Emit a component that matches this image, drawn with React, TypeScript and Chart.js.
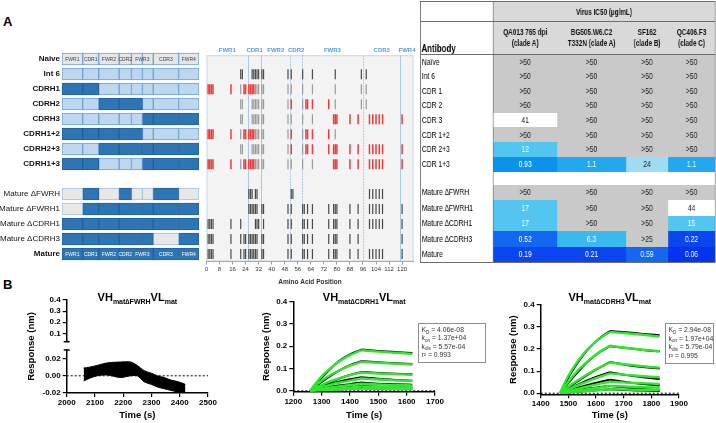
import React, { useEffect, useRef } from 'react';
import { Chart, registerables } from 'chart.js';

Chart.register(...registerables);

const FONT = '"Liberation Sans", Arial, Helvetica, sans-serif';

/* ================= Panel A : schematic ================= */
const rowLabels = ['Naive', 'Int 6', 'CDRH1', 'CDRH2', 'CDRH3', 'CDRH1+2', 'CDRH2+3', 'CDRH1+3', '',
  'Mature ΔFWRH', 'Mature ΔFWRH1', 'Mature ΔCDRH1', 'Mature ΔCDRH3', 'Mature'];
// segments: FWR1, CDR1, FWR2, CDR2, FWR3a, FWR3b, CDR3, FWR4 (schematic units 0-100)
const segmentBounds = [0, 15.1, 26.8, 41.7, 50.7, 58.7, 66.6, 85.1, 100];
// N = naive grey, L = intermediate (light), D = mature (dark), G = deleted (grey)
const rowPatterns = ['NNNNNNNN', 'LLLLLLLL', 'DDLLLLLL', 'LLDDDLLL', 'LLLLLDDD', 'DDDDDLLL', 'LLDDDDDD', 'DDLLLDDD', '',
  'GDGDGGDG', 'GDDDDDDD', 'DDDDDDDD', 'DDDDDDGD', 'DDDDDDDD'];
const deletionRow = 11;
const deletionSpan = [11.7, 18.5];
const segLabelNames = ['FWR1', 'CDR1', 'FWR2', 'CDR2', 'FWR3', 'CDR3', 'FWR4'];
const segLabelBounds = [0, 15.1, 26.8, 41.7, 50.7, 66.6, 85.1, 100];

/* ================= Panel A : mutation map ================= */
const regionNames = ['FWR1', 'CDR1', 'FWR2', 'CDR2', 'FWR3', 'CDR3', 'FWR4'];
const regionBounds = [0, 25.5, 33.5, 51.5, 58.5, 96, 119, 127];
const int6Marks = [21, 22, 28, 29, 30, 31, 32, 34, 35, 50, 52, 59, 65, 79, 95, 98];
const grayMarks = [
  [], [],
  [21, 30, 31, 32, 34, 35, 50, 52, 59, 65, 79, 95, 98],
  [21, 22, 28, 29, 30, 31, 32, 34, 35, 50, 59, 79, 95, 98],
  [21, 22, 28, 29, 30, 31, 32, 34, 35, 50, 52, 59, 65],
  [21, 30, 31, 32, 34, 35, 50, 59, 79],
  [21, 22, 28, 29, 30, 31, 32, 34, 35, 50, 59],
  [21, 30, 31, 32, 34, 35, 50, 52, 59, 65],
];
const redMarks = [
  [], [],
  [1, 2, 3, 4, 15, 23, 24, 26, 27, 28, 29],
  [52, 61, 62, 65, 75],
  [78, 79, 80, 88, 93, 100, 102, 104, 106, 108, 120],
  [1, 2, 3, 4, 15, 23, 24, 26, 27, 28, 29, 52, 61, 62, 65, 75],
  [52, 61, 62, 65, 75, 78, 79, 80, 88, 93, 100, 102, 104, 106, 108, 120],
  [1, 2, 3, 4, 15, 23, 24, 26, 27, 28, 29, 78, 79, 80, 88, 93, 100, 102, 104, 106, 108, 120],
];
const dFWRHMarks = [26, 27, 28, 30, 31, 52, 53, 100, 102, 104, 106, 108];
const dFWRH1Marks = [26, 27, 28, 29, 30, 31, 34, 35, 50, 52, 59, 60, 62, 65, 75, 78, 79, 80, 88, 93, 100, 102, 104, 106, 108, 120];
const dCDRH1Marks = [1, 2, 3, 4, 15, 21, 30, 31, 32, 35, 50, 52, 59, 60, 62, 65, 75, 78, 79, 80, 88, 93, 100, 102, 104, 106, 108, 120];
const dCDRH3Marks = [1, 2, 3, 4, 15, 21, 23, 24, 26, 27, 28, 29, 30, 31, 34, 35, 50, 52, 59, 60, 62, 65, 75, 78, 79, 80, 88, 93, 120];
const matureMarks = [1, 2, 3, 4, 15, 21, 23, 24, 26, 27, 28, 29, 30, 31, 34, 35, 50, 52, 59, 60, 62, 65, 75, 78, 79, 80, 88, 93, 100, 102, 104, 106, 108, 120];

/* ================= Panel A : IC50 table ================= */
const tableRowNames = ['Naïve', 'Int 6', 'CDR 1', 'CDR 2', 'CDR 3', 'CDR 1+2', 'CDR 2+3', 'CDR 1+3', '',
  'Mature ∆FWRH', 'Mature ∆FWRH1', 'Mature ∆CDRH1', 'Mature ∆CDRH3', 'Mature'];
const virusNames = ['QA013 765 dpi\n(clade A)', 'BG505.W6.C2\nT332N (clade A)', 'SF162\n(clade B)', 'QC406.F3\n(clade C)'];
const ic50QA013 = ['>50', '>50', '>50', '>50', '41', '>50', '12', '0.93', '', '>50', '17', '17', '0.52', '0.19'];
const ic50BG505 = ['>50', '>50', '>50', '>50', '>50', '>50', '>50', '1.1', '', '>50', '>50', '>50', '6.3', '0.21'];
const ic50SF162 = ['>50', '>50', '>50', '>50', '>50', '>50', '>50', '24', '', '>50', '>50', '>50', '>25', '0.59'];
const ic50QC406 = ['>50', '>50', '>50', '>50', '>50', '>50', '>50', '1.1', '', '>50', '44', '15', '0.22', '0.06'];

/* ================= Panel B : binding curves ================= */
const p1Times = [2060, 2080, 2107, 2143, 2190, 2226, 2250, 2274, 2300, 2321, 2345, 2369, 2395, 2420];
const p1Upper = [0.009, 0.010, 0.012, 0.015, 0.016, 0.016, 0.012, 0.006, 0.003, 0.000, -0.002, -0.005, -0.007, -0.010];
const p1Lower = [-0.006, -0.003, 0.000, 0.001, -0.002, 0.000, 0.000, -0.007, -0.010, -0.013, -0.015, -0.017, -0.019, -0.021];

const p2Times = [1260, 1280, 1300, 1330, 1360, 1400, 1440, 1500, 1560, 1620];
const p2Fits = [
  [0, 0.035, 0.065, 0.100, 0.130, 0.160, 0.182, 0.176, 0.171, 0.166],
  [0, 0.025, 0.045, 0.070, 0.090, 0.113, 0.130, 0.126, 0.122, 0.118],
  [0, 0.014, 0.026, 0.042, 0.055, 0.070, 0.082, 0.078, 0.075, 0.072],
  [0, 0.009, 0.017, 0.027, 0.036, 0.046, 0.055, 0.051, 0.047, 0.044],
  [0, 0.005, 0.009, 0.015, 0.020, 0.026, 0.032, 0.029, 0.026, 0.024],
  [0, 0.003, 0.005, 0.008, 0.011, 0.015, 0.019, 0.017, 0.016, 0.014],
  [0, 0.001, 0.002, 0.004, 0.006, 0.008, 0.010, 0.009, 0.008, 0.007],
];
const p2Data = [
  [0, 0.028, 0.058, 0.098, 0.133, 0.164, 0.185, 0.179, 0.174, 0.170],
  [0, 0.020, 0.040, 0.066, 0.090, 0.115, 0.133, 0.128, 0.124, 0.120],
  [0, 0.011, 0.023, 0.039, 0.054, 0.071, 0.085, 0.080, 0.077, 0.074],
  [0, 0.010, 0.019, 0.031, 0.041, 0.052, 0.061, 0.054, 0.049, 0.045],
  [0, 0.006, 0.011, 0.018, 0.024, 0.030, 0.037, 0.032, 0.030, 0.027],
  [0, 0.003, 0.006, 0.010, 0.013, 0.017, 0.021, 0.018, 0.016, 0.014],
  [0, 0.001, 0.003, 0.005, 0.007, 0.009, 0.011, 0.010, 0.009, 0.008],
];
const p2Kinetics = [['K', 'D', ' = 4.06e-08'], ['k', 'on', ' = 1.37e+04'], ['k', 'dis', ' = 5.57e-04'], ['r²', '', ' = 0.993']];

const p3Times = [1470, 1490, 1510, 1540, 1570, 1610, 1650, 1710, 1770, 1830];
const p3Fits = [
  [0, 0.055, 0.100, 0.155, 0.200, 0.245, 0.278, 0.272, 0.265, 0.257],
  [0, 0.035, 0.068, 0.110, 0.145, 0.185, 0.215, 0.205, 0.197, 0.190],
  [0, 0.020, 0.038, 0.063, 0.087, 0.115, 0.139, 0.130, 0.122, 0.116],
  [0, 0.012, 0.023, 0.039, 0.054, 0.073, 0.090, 0.083, 0.077, 0.072],
  [0, 0.007, 0.013, 0.022, 0.031, 0.042, 0.052, 0.048, 0.045, 0.042],
  [0, 0.004, 0.008, 0.013, 0.018, 0.025, 0.033, 0.030, 0.027, 0.025],
  [0, 0.002, 0.004, 0.007, 0.010, 0.014, 0.018, 0.016, 0.015, 0.014],
];
const p3Data = [
  [0, 0.048, 0.093, 0.150, 0.198, 0.246, 0.282, 0.276, 0.269, 0.263],
  [0, 0.030, 0.062, 0.104, 0.142, 0.184, 0.213, 0.205, 0.196, 0.190],
  [0, 0.017, 0.034, 0.059, 0.084, 0.114, 0.141, 0.128, 0.119, 0.112],
  [0, 0.012, 0.024, 0.042, 0.059, 0.078, 0.095, 0.082, 0.072, 0.064],
  [0, 0.008, 0.016, 0.027, 0.037, 0.050, 0.061, 0.050, 0.042, 0.035],
  [0, 0.005, 0.009, 0.015, 0.021, 0.027, 0.033, 0.026, 0.019, 0.013],
  [0, 0.002, 0.004, 0.007, 0.010, 0.014, 0.018, 0.014, 0.012, 0.010],
];
const p3Kinetics = [['K', 'D', ' = 2.94e-08'], ['k', 'on', ' = 1.97e+04'], ['k', 'dis', ' = 5.79e-04'], ['r²', '', ' = 0.995']];

/* ================= helpers ================= */
const GREEN = '#2ee62e';

function ChartCanvas({ left, top, width, height, make }: { left: number; top: number; width: number; height: number; make: (c: HTMLCanvasElement) => Chart }) {
  const ref = useRef<HTMLCanvasElement>(null);
  useEffect(() => {
    const chart = make(ref.current as HTMLCanvasElement);
    return () => chart.destroy();
  }, []);
  return <canvas ref={ref} width={width} height={height} style={{ position: 'absolute', left, top, width, height }} />;
}

/* ---------- schematic chart ---------- */
function makeSchematic(canvas: HTMLCanvasElement) {
  const fill: Record<string, string> = { N: '#e6e6e6', L: '#bdd7ee', D: '#2e75b6', G: '#e8e8e8' };
  const edge: Record<string, string> = { N: '#6fa3d8', L: '#6fa3d8', D: '#22609f', G: '#9fc2e4' };
  const datasets: any[] = segmentBounds.slice(0, -1).map((_, i) => ({
    data: rowPatterns.map((p) => (p ? [segmentBounds[i], segmentBounds[i + 1]] : null)),
    backgroundColor: rowPatterns.map((p) => (p ? fill[p[i]] : 'transparent')),
    borderColor: rowPatterns.map((p) => (p ? edge[p[i]] : 'transparent')),
    borderWidth: 1,
    borderSkipped: false,
    grouped: false,
    barThickness: 12,
  }));
  datasets.push({
    data: rowLabels.map((_, r) => (r === deletionRow ? deletionSpan : null)),
    backgroundColor: '#e8e8e8',
    borderColor: '#9fc2e4',
    borderWidth: 1,
    borderSkipped: false,
    grouped: false,
    barThickness: 12,
  });
  const textPlugin = {
    id: 'segText',
    afterDatasetsDraw(chart: any) {
      const { ctx } = chart;
      const xs = chart.scales.x;
      const ys = chart.scales.y;
      ctx.save();
      ctx.font = `5px ${FONT}`;
      ctx.textAlign = 'center';
      ctx.textBaseline = 'middle';
      [[0, '#444'], [13, '#ffffff']].forEach(([row, color]) => {
        segLabelNames.forEach((n, i) => {
          ctx.fillStyle = color as string;
          ctx.fillText(n, xs.getPixelForValue((segLabelBounds[i] + segLabelBounds[i + 1]) / 2), ys.getPixelForValue(row as number) + 0.5);
        });
      });
      ctx.restore();
    },
  };
  return new Chart(canvas, {
    type: 'bar',
    data: { labels: rowLabels, datasets },
    options: {
      indexAxis: 'y',
      responsive: false,
      animation: false,
      events: [],
      layout: { padding: { top: 11.5, bottom: 13.5, left: 0, right: 0 } },
      plugins: { legend: { display: false }, tooltip: { enabled: false } },
      scales: {
        x: { type: 'linear', min: 0, max: 100, display: false },
        y: {
          type: 'category',
          offset: true,
          grid: { display: false, drawTicks: false },
          border: { display: false },
          ticks: {
            color: '#111',
            padding: 2,
            font: (c: any) => ({ family: FONT, size: 8, weight: c.index >= 9 && c.index <= 12 ? 'normal' : 'bold' }),
          },
          afterFit: (s: any) => { s.width = 62; },
        },
      },
    } as any,
    plugins: [textPlugin],
  });
}

/* ---------- mutation map chart ---------- */
function makeMutationMap(canvas: HTMLCanvasElement) {
  const pts = (rows: number[][], idx: number[]) =>
    rows.flatMap((r, k) => r.map((x) => ({ x, y: idx[k] })));
  const dark = pts([int6Marks, dFWRHMarks, dFWRH1Marks, dCDRH1Marks, dCDRH3Marks, matureMarks], [1, 9, 10, 11, 12, 13]);
  const gray = pts(grayMarks, grayMarks.map((_, i) => i));
  const red = pts(redMarks, redMarks.map((_, i) => i));
  const mk = (data: any[], color: string, w: number) => ({
    data,
    showLine: false,
    pointStyle: 'line',
    pointRotation: 90,
    pointRadius: 5,
    pointBorderColor: color,
    pointBackgroundColor: color,
    pointBorderWidth: w,
  });
  const panelPlugin = {
    id: 'aaPanel',
    beforeDraw(chart: any) {
      const { ctx, chartArea: a } = chart;
      ctx.save();
      ctx.fillStyle = '#f3f3f3';
      ctx.fillRect(a.left, a.top, a.right - a.left, a.bottom - a.top);
      ctx.strokeStyle = '#c8d8e8';
      ctx.lineWidth = 1;
      ctx.strokeRect(a.left + 0.5, a.top + 0.5, a.right - a.left - 1, a.bottom - a.top - 1);
      ctx.restore();
    },
    beforeDatasetsDraw(chart: any) {
      const { ctx, chartArea: a } = chart;
      const xs = chart.scales.x;
      ctx.save();
      ctx.strokeStyle = '#a9c9ea';
      ctx.lineWidth = 1;
      regionBounds.slice(1, -1).forEach((b, i) => {
        const x = Math.round(xs.getPixelForValue(b)) + 0.5;
        ctx.setLineDash(i === 2 || i === 3 || i === 4 ? [2, 1] : []);
        ctx.beginPath();
        ctx.moveTo(x, a.top);
        ctx.lineTo(x, a.bottom);
        ctx.stroke();
      });
      ctx.restore();
    },
    afterDraw(chart: any) {
      const { ctx, chartArea: a } = chart;
      const xs = chart.scales.x;
      ctx.save();
      ctx.font = `bold 6px ${FONT}`;
      ctx.fillStyle = '#5b9bd5';
      ctx.textAlign = 'center';
      ctx.textBaseline = 'middle';
      regionNames.forEach((n, i) => {
        ctx.fillText(n, xs.getPixelForValue((regionBounds[i] + regionBounds[i + 1]) / 2), a.top - 5);
      });
      ctx.restore();
    },
  };
  return new Chart(canvas, {
    type: 'scatter',
    data: { datasets: [mk(gray, '#9a9a9a', 1.2), mk(dark, '#4a4a4a', 1.2), mk(red, '#ef3a3a', 1.5)] },
    options: {
      responsive: false,
      animation: false,
      events: [],
      layout: { padding: { top: 15.25, bottom: 0, left: 4.3, right: 2.3 } },
      plugins: { legend: { display: false }, tooltip: { enabled: false } },
      scales: {
        y: { type: 'linear', reverse: true, min: -0.27, max: 13.5, display: false },
        x: {
          type: 'linear',
          min: 0,
          max: regionBounds[regionBounds.length - 1],
          grid: { drawOnChartArea: false, color: '#999', tickLength: 3 },
          border: { color: '#aaa' },
          ticks: { stepSize: 8, includeBounds: false, autoSkip: false, maxRotation: 0, padding: 1, color: '#333', font: { family: FONT, size: 6 }, callback: (v: any) => String(v) },
          title: { display: true, text: 'Amino Acid Position', color: '#333', font: { family: FONT, size: 6.5, weight: 'bold' }, padding: { top: 0, bottom: 4 } },
          afterFit: (s: any) => { s.height = 28.5; },
        },
      },
    } as any,
    plugins: [panelPlugin],
  });
}

/* ---------- binding plot helpers ---------- */
function titlePlugin(parts: string[][], baseline: number) {
  return {
    id: 'vhTitle',
    afterDraw(chart: any) {
      const { ctx, chartArea: a } = chart;
      const big = `bold 11px ${FONT}`;
      const small = `bold 7px ${FONT}`;
      ctx.save();
      let total = 0;
      parts.forEach(([t, s]) => {
        ctx.font = big; total += ctx.measureText(t).width;
        ctx.font = small; total += ctx.measureText(s).width;
      });
      let x = (a.left + a.right) / 2 - total / 2;
      ctx.fillStyle = '#000';
      ctx.textAlign = 'left';
      ctx.textBaseline = 'alphabetic';
      parts.forEach(([t, s]) => {
        ctx.font = big; ctx.fillText(t, x, baseline); x += ctx.measureText(t).width;
        ctx.font = small; ctx.fillText(s, x, baseline + 3); x += ctx.measureText(s).width;
      });
      ctx.restore();
    },
  };
}

function kineticsPlugin(lines: string[][], ax: number, ay: number, w: number, h: number) {
  return {
    id: 'kBox',
    afterDraw(chart: any) {
      const { ctx } = chart;
      const x0 = Math.round(chart.scales.x.getPixelForValue(ax)) + 0.5;
      const y0 = Math.round(chart.scales.y.getPixelForValue(ay)) + 0.5;
      ctx.save();
      ctx.fillStyle = '#fff';
      ctx.fillRect(x0, y0, w, h);
      ctx.strokeStyle = '#8c8c8c';
      ctx.lineWidth = 1;
      ctx.strokeRect(x0, y0, w, h);
      ctx.fillStyle = '#333';
      ctx.textAlign = 'left';
      ctx.textBaseline = 'alphabetic';
      lines.forEach(([m, sub, rest], i) => {
        const by = y0 + 8.5 + i * (h - 6) / 4;
        let x = x0 + 3;
        ctx.font = `6.8px ${FONT}`;
        ctx.fillText(m, x, by); x += ctx.measureText(m).width;
        if (sub) { ctx.font = `4.6px ${FONT}`; ctx.fillText(sub, x, by + 1.8); x += ctx.measureText(sub).width; }
        ctx.font = `6.8px ${FONT}`;
        ctx.fillText(rest, x, by);
      });
      ctx.restore();
    },
  };
}

const tickFont = { family: FONT, size: 8, weight: 'bold' };
const axisTitleFont = { family: FONT, size: 9.5, weight: 'bold' };

function xAxis(min: number, max: number, height: number) {
  return {
    type: 'linear', min, max,
    grid: { drawOnChartArea: false, color: '#000', tickLength: 4, lineWidth: 1.2 },
    border: { color: '#000', width: 1.5 },
    ticks: { stepSize: 100, color: '#000', font: tickFont, padding: 1, maxRotation: 0, autoSkip: false, callback: (v: any) => String(v) },
    title: { display: true, text: 'Time (s)', color: '#000', font: axisTitleFont, padding: { top: 0, bottom: 2.3 } },
    afterFit: (s: any) => { s.height = height; },
  };
}

function yAxis(min: number, max: number, step: number, dec: number, width: number, titlePad: number | null) {
  return {
    type: 'linear', min, max,
    grid: { drawOnChartArea: false, color: '#000', tickLength: 4, lineWidth: 1.2 },
    border: { color: '#000', width: 1.5 },
    ticks: { stepSize: step, includeBounds: false, color: '#000', font: tickFont, padding: 2, callback: (v: any) => Number(v).toFixed(dec) },
    title: titlePad === null ? { display: false } : { display: true, text: 'Response (nm)', color: '#000', font: axisTitleFont, padding: { top: titlePad, bottom: 0 } },
    afterFit: (s: any) => { s.width = width; },
  };
}

function curveDatasets(times: number[], fits: number[][], data: number[][], x0: number, x1: number) {
  const seg = (vals: number[], a: number, b: number) => times.slice(a, b).map((t, i) => ({ x: t, y: vals[a + i] }));
  const peak = 6;
  const ds: any[] = [];
  fits.forEach((v) => {
    [[0, peak + 1], [peak, times.length]].forEach(([a, b]) =>
      ds.push({ data: seg(v, a, b), borderColor: GREEN, borderWidth: 2.4, pointRadius: 0, cubicInterpolationMode: 'monotone', order: 0 }));
  });
  data.forEach((v) => {
    [[0, peak + 1], [peak, times.length]].forEach(([a, b]) =>
      ds.push({ data: seg(v, a, b), borderColor: '#000', borderWidth: 2, pointRadius: 0, cubicInterpolationMode: 'monotone', order: 1 }));
  });
  ds.push({ data: [{ x: x0, y: 0 }, { x: x1, y: 0 }], borderColor: '#000', borderWidth: 1, borderDash: [2, 2], pointRadius: 0, order: 2 });
  return ds;
}

const baseOpts = {
  responsive: false,
  animation: false,
  events: [],
  plugins: { legend: { display: false }, tooltip: { enabled: false } },
};

/* plot 1 (broken axis) */
function makeP1Lower(canvas: HTMLCanvasElement) {
  const band = (vals: number[]) => p1Times.map((t, i) => ({ x: t, y: vals[i] }));
  const extra = {
    id: 'p1Extra',
    afterDraw(chart: any) {
      const { ctx, chartArea: a } = chart;
      ctx.save();
      ctx.strokeStyle = '#000';
      ctx.lineWidth = 1.5;
      ctx.beginPath();
      ctx.moveTo(a.left - 3, a.top);
      ctx.lineTo(a.left + 3, a.top);
      ctx.stroke();
      ctx.translate(31.7, 66.5);
      ctx.rotate(-Math.PI / 2);
      ctx.font = `bold 9.5px ${FONT}`;
      ctx.fillStyle = '#000';
      ctx.textAlign = 'center';
      ctx.textBaseline = 'middle';
      ctx.fillText('Response (nm)', 0, 0);
      ctx.restore();
    },
  };
  return new Chart(canvas, {
    type: 'line',
    data: {
      datasets: [
        { data: band(p1Upper), borderColor: '#000', borderWidth: 1, backgroundColor: '#000', fill: '+1', pointRadius: 0, tension: 0.3, order: 0 },
        { data: band(p1Lower), borderColor: '#000', borderWidth: 1, pointRadius: 0, tension: 0.3, order: 0 },
        { data: [{ x: 2000, y: 0 }, { x: 2500, y: 0 }], borderColor: '#000', borderWidth: 1, borderDash: [2, 2], pointRadius: 0, order: 1 },
      ],
    },
    options: {
      ...baseOpts,
      layout: { padding: { top: 70, right: 16, left: 0, bottom: 0 } },
      scales: { x: xAxis(2000, 2500, 30), y: yAxis(-0.02, 0.03, 0.02, 2, 66.7, null) },
    } as any,
    plugins: [extra, titlePlugin([['VH', 'mat∆FWRH'], ['VL', 'mat']], 20.5)],
  });
}

function makeP1Upper(canvas: HTMLCanvasElement) {
  const cap = {
    id: 'cap',
    afterDraw(chart: any) {
      const { ctx, chartArea: a } = chart;
      ctx.save();
      ctx.strokeStyle = '#000';
      ctx.lineWidth = 1.5;
      ctx.beginPath();
      ctx.moveTo(a.left - 3, a.bottom);
      ctx.lineTo(a.left + 3, a.bottom);
      ctx.stroke();
      ctx.restore();
    },
  };
  return new Chart(canvas, {
    type: 'line',
    data: { datasets: [{ data: [], pointRadius: 0 }] },
    options: {
      ...baseOpts,
      layout: { padding: { top: 20, right: 16, left: 0, bottom: 8.3 } },
      scales: {
        x: { type: 'linear', min: 2000, max: 2500, display: false },
        y: yAxis(0.025, 0.4, 0.1, 1, 66.7, null),
      },
    } as any,
    plugins: [cap],
  });
}

function makeP2(canvas: HTMLCanvasElement) {
  return new Chart(canvas, {
    type: 'line',
    data: { datasets: curveDatasets(p2Times, p2Fits, p2Data, 1200, 1700) },
    options: {
      ...baseOpts,
      layout: { padding: { top: 21.7, right: 55, left: 0, bottom: 0 } },
      scales: { x: xAxis(1200, 1700, 31.3), y: yAxis(-0.004, 0.4, 0.1, 1, 77.3, 45) },
    } as any,
    plugins: [titlePlugin([['VH', 'mat∆CDRH1'], ['VL', 'mat']], 20.5), kineticsPlugin(p2Kinetics, 1640, 0.304, 67, 39)],
  });
}

function makeP3(canvas: HTMLCanvasElement) {
  return new Chart(canvas, {
    type: 'line',
    data: { datasets: curveDatasets(p3Times, p3Fits, p3Data, 1400, 1900) },
    options: {
      ...baseOpts,
      layout: { padding: { top: 25, right: 37, left: 0, bottom: 0 } },
      scales: { x: xAxis(1400, 1900, 28.7), y: yAxis(-0.005, 0.4, 0.1, 1, 50.7, 17.6) },
    } as any,
    plugins: [titlePlugin([['VH', 'mat∆CDRH3'], ['VL', 'mat']], 20.5), kineticsPlugin(p3Kinetics, 1849, 0.32, 48, 40)],
  });
}

/* ---------- IC50 table ---------- */
function cellStyle(v: string) {
  if (v === '') return { bg: '#ffffff', fg: '#000' };
  if (v.startsWith('>')) return { bg: '#c9c9c9', fg: '#1a1a1a' };
  const n = parseFloat(v);
  if (n >= 40) return { bg: '#ffffff', fg: '#1a1a1a' };
  if (n >= 20) return { bg: '#9edcf6', fg: '#1a1a1a' };
  if (n >= 10) return { bg: '#52c5f1', fg: '#ffffff' };
  if (n >= 2) return { bg: '#3ab9ef', fg: '#ffffff' };
  if (n >= 1) return { bg: '#22a8ee', fg: '#ffffff' };
  if (n >= 0.7) return { bg: '#0b93ec', fg: '#ffffff' };
  if (n >= 0.5) return { bg: '#1468ef', fg: '#ffffff' };
  if (n >= 0.15) return { bg: '#0a45f0', fg: '#ffffff' };
  return { bg: '#0633ee', fg: '#ffffff' };
}

function IC50Table() {
  const sx = 0.75;
  const colW = [96.5, 86, 91.5, 56.5, 62.5];
  const total = colW.reduce((a, b) => a + b, 0);
  const cols = [ic50QA013, ic50BG505, ic50SF162, ic50QC406];
  const border = '1px solid #6e6e6e';
  const td: React.CSSProperties = { padding: 0, lineHeight: '10px' };
  return (
    <div style={{ position: 'absolute', left: 420, top: 0.5, width: total, transform: `scaleX(${sx})`, transformOrigin: '0 0', willChange: 'transform', fontFamily: FONT, color: '#111', WebkitFontSmoothing: 'antialiased' } as any}>
      <table style={{ borderCollapse: 'collapse', tableLayout: 'fixed', width: total, border, background: '#fff' }}>
        <colgroup>{colW.map((w, i) => <col key={i} style={{ width: w }} />)}</colgroup>
        <tbody>
          <tr style={{ height: 20 }}>
            <td style={{ ...td, borderRight: border, borderBottom: border }} />
            <td colSpan={4} style={{ ...td, background: '#d9d9d9', color: '#111', textAlign: 'center', fontWeight: 'bold', fontSize: 8.5, borderBottom: border }}>Virus IC50 (µg/mL)</td>
          </tr>
          <tr style={{ height: 32.5 }}>
            <td style={{ ...td, color: '#000', borderRight: border, borderBottom: border, verticalAlign: 'bottom', fontWeight: 'bold', fontSize: 10.5, lineHeight: '12px', paddingLeft: 1 }}>Antibody</td>
            {virusNames.map((n, i) => (
              <td key={i} style={{ ...td, background: '#d9d9d9', color: '#111', borderBottom: border, textAlign: 'center', fontWeight: 'bold', fontSize: 8.5, lineHeight: '11px', whiteSpace: 'pre-line' }}>{n}</td>
            ))}
          </tr>
          {tableRowNames.map((name, r) => {
            const h = r < 8 ? 14.7 : r === 8 ? 13 : 15.5;
            return (
              <tr key={r} style={{ height: h }}>
                <td style={{ ...td, color: '#000', borderRight: border, fontSize: 9, paddingLeft: 1.5, background: '#fff', whiteSpace: 'nowrap' }}>{name}</td>
                {cols.map((c, k) => {
                  const st = cellStyle(c[r]);
                  return <td key={k} style={{ ...td, background: st.bg, color: st.fg, fontSize: 9, textAlign: 'center' }}>{c[r]}</td>;
                })}
              </tr>
            );
          })}
        </tbody>
      </table>
    </div>
  );
}

export default function App() {
  return (
    <div style={{ position: 'absolute', left: 0, top: 0, width: 716, height: 423, background: '#fff', overflow: 'hidden', fontFamily: FONT }}>
      <div style={{ position: 'absolute', left: 3, top: 14.5, font: `bold 13px ${FONT}`, lineHeight: '13px' }}>A</div>
      <div style={{ position: 'absolute', left: 3, top: 278, font: `bold 13px ${FONT}`, lineHeight: '13px' }}>B</div>
      <ChartCanvas left={0} top={40} width={199} height={235} make={makeSchematic} />
      <ChartCanvas left={200} top={40} width={220} height={250} make={makeMutationMap} />
      <IC50Table />
      <ChartCanvas left={0} top={280} width={224} height={70} make={makeP1Upper} />
      <ChartCanvas left={0} top={280} width={224} height={143} make={makeP1Lower} />
      <ChartCanvas left={216} top={280} width={274} height={143} make={makeP2} />
      <ChartCanvas left={490} top={280} width={226} height={143} make={makeP3} />
    </div>
  );
}
